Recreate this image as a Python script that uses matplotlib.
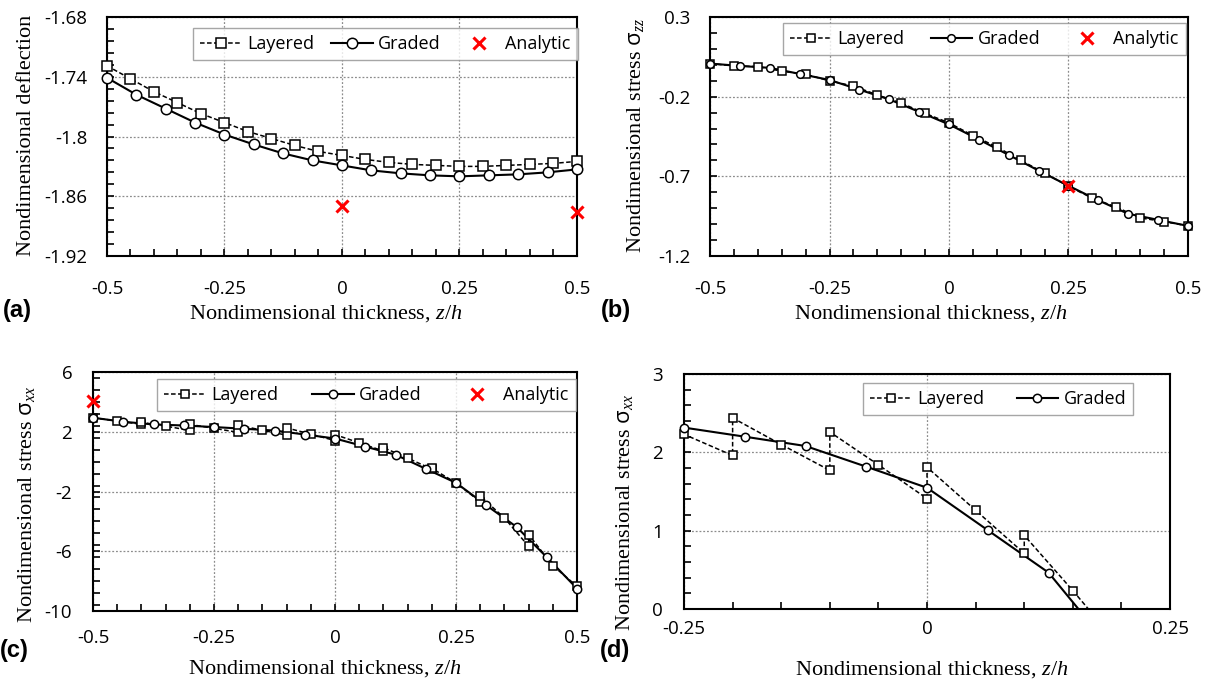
import numpy as np
import matplotlib
matplotlib.use('Agg')
import matplotlib.pyplot as plt
from matplotlib.lines import Line2D
from matplotlib.ticker import MultipleLocator, FixedLocator

plt.rcParams['font.family'] = ['Open Sans', 'DejaVu Sans']
plt.rcParams['axes.unicode_minus'] = False
plt.rcParams['mathtext.fontset'] = 'custom'
plt.rcParams['mathtext.rm'] = 'Liberation Serif'
plt.rcParams['mathtext.it'] = 'Liberation Serif:italic'
plt.rcParams['mathtext.sf'] = 'Open Sans'

# ── data ─────────────────────────────────────────
# thickness coordinates
z_step05 = [-0.5, -0.45, -0.4, -0.35, -0.3, -0.25, -0.2, -0.15, -0.1, -0.05, 0.0,
            0.05, 0.1, 0.15, 0.2, 0.25, 0.3, 0.35, 0.4, 0.45, 0.5]
z_graded = [-0.5, -0.4375, -0.375, -0.3125, -0.25, -0.1875, -0.125, -0.0625, 0.0,
            0.0625, 0.125, 0.1875, 0.25, 0.3125, 0.375, 0.4375, 0.5]
# layered sigma_xx: 3 points per layer (bottom, middle, top), jumps at interfaces
z_layer_xx = [-0.5, -0.45, -0.4, -0.4, -0.35, -0.3, -0.3, -0.25, -0.2,
              -0.2, -0.15, -0.1, -0.1, -0.05, 0.0, 0.0, 0.05, 0.1,
              0.1, 0.15, 0.2, 0.2, 0.25, 0.3, 0.3, 0.35, 0.4, 0.4, 0.45, 0.5]

# (a) deflection
defl_layered = [-1.729, -1.742, -1.755, -1.766, -1.777, -1.786, -1.795, -1.802, -1.809,
                -1.815, -1.819, -1.823, -1.826, -1.828, -1.829, -1.830, -1.830, -1.829,
                -1.828, -1.827, -1.825]
defl_graded = [-1.741, -1.758, -1.772, -1.786, -1.798, -1.808, -1.817, -1.824, -1.829,
               -1.834, -1.837, -1.839, -1.840, -1.839, -1.838, -1.836, -1.833]
defl_analytic_z = [0.0, 0.5]
defl_analytic = [-1.870, -1.876]

# (b) sigma_zz
szz_layered = [0.008, -0.007, -0.011, -0.040, -0.059, -0.101, -0.133, -0.189, -0.240,
               -0.305, -0.364, -0.444, -0.515, -0.599, -0.679, -0.763, -0.837, -0.893,
               -0.961, -0.984, -1.011]
szz_graded = [0.008, -0.007, -0.019, -0.057, -0.095, -0.156, -0.217, -0.295, -0.374,
              -0.469, -0.566, -0.664, -0.759, -0.851, -0.935, -0.973, -1.011]
szz_analytic_z = [0.25]
szz_analytic = [-0.763]

# (c)/(d) sigma_xx
sxx_layered = [2.94, 2.72, 2.50, 2.63, 2.38, 2.09, 2.49, 2.23, 1.96,
               2.44, 2.10, 1.77, 2.26, 1.84, 1.41, 1.81, 1.26, 0.71,
               0.94, 0.235, -0.50, -0.45, -1.42, -2.69, -2.31, -3.77, -5.67,
               -4.88, -6.96, -8.35]
sxx_graded = [2.94, 2.67, 2.49, 2.42, 2.316, 2.200, 2.081, 1.817, 1.548,
              1.006, 0.465, -0.48, -1.42, -2.92, -4.37, -6.40, -8.50]
sxx_analytic_z = [-0.5]
sxx_analytic = [4.06]

# ticks
xt_full = [-0.5, -0.25, 0, 0.25, 0.5]
xt_full_lbl = ['-0.5', '-0.25', '0', '0.25', '0.5']
xt_zoom = [-0.25, 0, 0.25]
xt_zoom_lbl = ['-0.25', '0', '0.25']
yt_a = [-1.92, -1.86, -1.8, -1.74, -1.68]
yt_a_lbl = ['-1.92', '-1.86', '-1.8', '-1.74', '-1.68']
yt_b = [-1.2, -0.7, -0.2, 0.3]
yt_b_lbl = ['-1.2', '-0.7', '-0.2', '0.3']
yt_c = [-10, -6, -2, 2, 6]
yt_c_lbl = ['-10', '-6', '-2', '2', '6']
yt_d = [0, 1, 2, 3]
yt_d_lbl = ['0', '1', '2', '3']

SERIF = 'Liberation Serif'
DASH = (0, (3, 1.6))


def series(ax, z, v, ls, lw, marker, ms, label):
    z = np.asarray(z, dtype=float)
    v = np.asarray(v, dtype=float)
    ax.plot(z, v, color='black', ls=ls, lw=lw, zorder=3)
    x0, x1 = ax.get_xlim()
    y0, y1 = ax.get_ylim()
    keep = (z >= x0 - 1e-9) & (z <= x1 + 1e-9) & (v >= y0) & (v <= y1)
    ax.plot(z[keep], v[keep], ls='none', marker=marker, ms=ms, mfc='white',
            mec='black', mew=1.1, clip_on=False, zorder=4)
    return Line2D([], [], color='black', ls=ls, lw=lw, marker=marker, ms=ms,
                  mfc='white', mec='black', mew=1.1, label=label)


def analytic(ax, z, v):
    ax.plot(z, v, ls='none', marker='x', color='red', ms=8, mew=2.2,
            clip_on=False, zorder=5)
    return Line2D([], [], ls='none', marker='x', color='red', ms=8, mew=2.2,
                  label='Analytic')


def frame(ax, xlim, ylim, xt, xtl, yt, ytl, xminor, yminor, xpad, ypad):
    ax.set_xlim(xlim)
    ax.set_ylim(ylim)
    ax.xaxis.set_major_locator(FixedLocator(xt))
    ax.set_xticklabels(xtl)
    ax.yaxis.set_major_locator(FixedLocator(yt))
    ax.set_yticklabels(ytl)
    ax.xaxis.set_minor_locator(MultipleLocator(xminor))
    ax.yaxis.set_minor_locator(MultipleLocator(yminor))
    ax.tick_params(which='both', direction='in', length=5, width=1.2,
                   top=False, right=False, labelsize=13.5)
    ax.tick_params(axis='x', which='major', pad=xpad)
    ax.tick_params(axis='y', which='major', pad=ypad)
    ax.grid(True, which='major', color='#8c8c8c', ls=(0, (1.5, 1.5)), lw=0.9)
    for s in ax.spines.values():
        s.set_linewidth(1.5)


def add_legend(ax, handles, x, y, ncol, gap):
    leg = ax.legend(handles=handles, loc='upper left', bbox_to_anchor=(x, y),
                    ncol=ncol, fontsize=13, frameon=True, fancybox=False,
                    edgecolor='#909090', handlelength=2.3, handletextpad=0.3,
                    columnspacing=gap, borderpad=0.4, borderaxespad=0)
    leg.get_frame().set_linewidth(1.0)


fig = plt.figure(figsize=(12.1, 6.86), dpi=100)
ax_a = fig.add_axes([0.0884, 0.6268, 0.3884, 0.3484])
ax_b = fig.add_axes([0.5868, 0.6268, 0.3950, 0.3484])
ax_c = fig.add_axes([0.0769, 0.1093, 0.4000, 0.3484])
ax_d = fig.add_axes([0.5653, 0.1122, 0.4017, 0.3426])

# (a) deflection
frame(ax_a, (-0.5, 0.5), (-1.92, -1.68), xt_full, xt_full_lbl, yt_a, yt_a_lbl,
      0.05, 0.012, 17, 14)
h1 = series(ax_a, z_step05, defl_layered, DASH, 1.1, 's', 7, 'Layered')
h2 = series(ax_a, z_graded, defl_graded, '-', 1.5, 'o', 7.5, 'Graded')
h3 = analytic(ax_a, defl_analytic_z, defl_analytic)
add_legend(ax_a, [h1, h2, h3], 0.183, 0.954, 3, 0.95)

# (b) sigma_zz
frame(ax_b, (-0.5, 0.5), (-1.2, 0.3), xt_full, xt_full_lbl, yt_b, yt_b_lbl,
      0.05, 0.1, 17, 14)
h1 = series(ax_b, z_step05, szz_layered, DASH, 1.1, 's', 5.5, 'Layered')
h2 = series(ax_b, z_graded, szz_graded, '-', 1.5, 'o', 5.5, 'Graded')
h3 = analytic(ax_b, szz_analytic_z, szz_analytic)
add_legend(ax_b, [h1, h2, h3], 0.153, 0.975, 3, 1.45)

# (c) sigma_xx, full thickness
frame(ax_c, (-0.5, 0.5), (-10, 6), xt_full, xt_full_lbl, yt_c, yt_c_lbl,
      0.05, 0.8, 13, 15)
h1 = series(ax_c, z_layer_xx, sxx_layered, DASH, 1.1, 's', 6, 'Layered')
h2 = series(ax_c, z_graded, sxx_graded, '-', 1.5, 'o', 6, 'Graded')
h3 = analytic(ax_c, sxx_analytic_z, sxx_analytic)
add_legend(ax_c, [h1, h2, h3], 0.132, 0.971, 3, 1.9)

# (d) sigma_xx, close-up of the middle region
frame(ax_d, (-0.25, 0.25), (0, 3), xt_zoom, xt_zoom_lbl, yt_d, yt_d_lbl,
      0.05, 0.2, 8, 15)
h1 = series(ax_d, z_layer_xx, sxx_layered, DASH, 1.1, 's', 6, 'Layered')
h2 = series(ax_d, z_graded, sxx_graded, '-', 1.5, 'o', 6, 'Graded')
add_legend(ax_d, [h1, h2], 0.368, 0.962, 2, 1.8)

# axis titles
xlab = 'Nondimensional thickness, $z/h$'
ylabs = ['Nondimensional deflection',
         r'Nondimensional stress $\mathsf{\sigma}_{zz}$',
         r'Nondimensional stress $\mathsf{\sigma}_{xx}$',
         r'Nondimensional stress $\mathsf{\sigma}_{xx}$']
xlab_pos = [(0.466, -0.262), (0.462, -0.262), (0.479, -0.262), (0.510, -0.28)]
ylab_pos = [(-0.172, 0.506), (-0.155, 0.506), (-0.138, 0.444), (-0.123, 0.409)]
for ax, yl, xp, yp in zip([ax_a, ax_b, ax_c, ax_d], ylabs, xlab_pos, ylab_pos):
    ax.set_xlabel(xlab, family=SERIF, fontsize=16, va='baseline')
    ax.xaxis.set_label_coords(*xp)
    ax.set_ylabel(yl, family=SERIF, fontsize=16, va='center')
    ax.yaxis.set_label_coords(*yp)

# panel tags
for tag, x, y in [('(a)', 0.002, 0.538), ('(b)', 0.497, 0.538),
                  ('(c)', 0.0, 0.042), ('(d)', 0.496, 0.042)]:
    fig.text(x, y, tag, family='Liberation Sans', fontweight='bold', fontsize=17,
             ha='left', va='baseline')

fig.savefig('out.png', dpi=100)
